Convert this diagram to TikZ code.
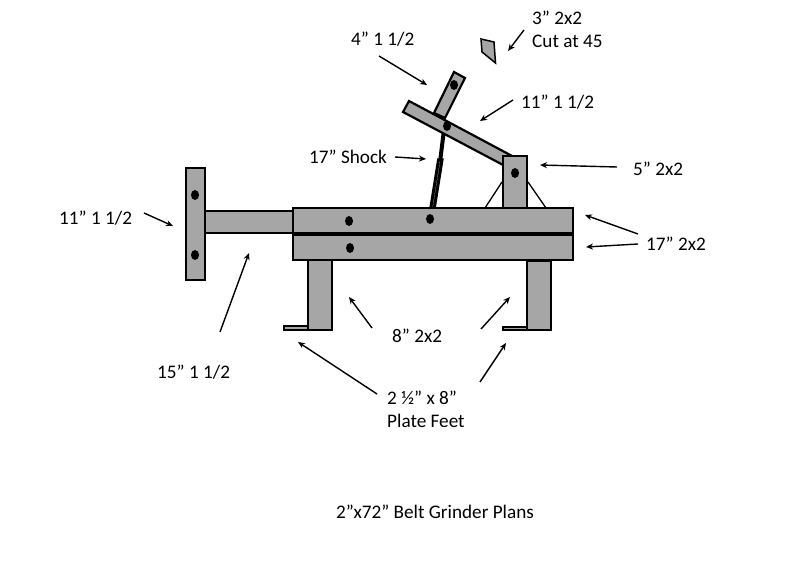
\documentclass[tikz,border=0pt]{standalone}
\usepackage{fontspec}
\setmainfont{Carlito}
\definecolor{steelgray}{HTML}{A6A6A6}
\tikzset{
    part/.style={draw=black, fill=steelgray, line width=2.2pt, line join=miter},
    bolt/.style={draw=none, fill=black, ellipse, minimum width=8pt, minimum height=10pt, inner sep=0pt},
    lbl/.style={font=\fontsize{19.2pt}{23pt}\selectfont, inner sep=0pt, align=left},
    pointer/.style={draw=black, line width=1.4pt, -{Stealth[length=7pt,width=6pt]}}
}
\usetikzlibrary{arrows.meta,shapes.geometric}
\begin{document}
\begin{tikzpicture}[x=1pt,y=-1pt]

    \useasboundingbox (0,0) rectangle (795,569);

    % Gussets behind the post
    \draw[line width=1.3pt] (485,208) -- (502,182);
    \draw[line width=1.3pt] (528,182) -- (546,208);

    % Short arm and shock
    \draw[part] (454,72) -- (465,78) -- (445,118) -- (434,113) -- cycle;
    \draw[line width=4pt] (444,130) -- (440,162);
    \draw[part, fill=white!70!steelgray, line width=3pt] (438.5,160) -- (442,160) -- (433.5,213) -- (430,213) -- cycle;

    % Angled arm, post
    \draw[part] (409,101) -- (514,157) -- (505,166) -- (403,112) -- cycle;
    \draw[part] (503,156) rectangle (527,208);

    % Cut piece
    \draw[part, line width=1.5pt] (481,39) -- (494,42) -- (495.5,63) -- (482,52) -- cycle;

    % Left plate and tube
    \draw[part] (205,211) rectangle (293,233);
    \draw[part] (186,168) rectangle (205,280);

    % Legs and feet
    \draw[part] (284,326) rectangle (308,330);
    \draw[part] (308,260) rectangle (332,330);
    \draw[part] (503,327) rectangle (527,330);
    \draw[part] (527,261) rectangle (551,330);

    % Main bars
    \draw[part] (293,208) rectangle (573,234);
    \draw[part] (293,234) rectangle (573,260);
    \draw[line width=3.5pt] (293,234) -- (573,234);

    % Bolts
    \node[bolt] (boltplatea) at (195,195) {};
    \node[bolt] (boltplateb) at (195,255) {};
    \node[bolt] (bolttop) at (349,221) {};
    \node[bolt] (boltbottom) at (350,248) {};
    \node[bolt] (boltshock) at (430,219) {};
    \node[bolt] (boltpivot) at (447,126) {};
    \node[bolt] (boltarm) at (454,85) {};
    \node[bolt] (boltpost) at (515,173) {};

    % Labels
    \node[lbl, anchor=west] (lblarm) at (351,39) {4” 1 1/2};
    \node[lbl, anchor=west] (lblcut) at (532,29.5) {3” 2x2\\Cut at 45};
    \node[lbl, anchor=west] (lblangle) at (521,102) {11” 1 1/2};
    \node[lbl, anchor=west] (lblshock) at (309,157) {17” Shock};
    \node[lbl, anchor=west] (lblpost) at (633,169) {5” 2x2};
    \node[lbl, anchor=west] (lblbars) at (646,244) {17” 2x2};
    \node[lbl, anchor=west] (lblplate) at (59,218) {11” 1 1/2};
    \node[lbl, anchor=west] (lbltube) at (157,372) {15” 1 1/2};
    \node[lbl, anchor=west] (lbllegs) at (392,336) {8” 2x2};
    \node[lbl, anchor=west] (lblfeet) at (387,409.5) {2 ½” x 8”\\Plate Feet};
    \node[lbl, anchor=west] (lbltitle) at (336,512) {2”x72” Belt Grinder Plans};

    % Arrow ends
    \coordinate (aarm) at (379,56);     \coordinate (barm) at (427,85);
    \coordinate (acut) at (524,30);     \coordinate (bcut) at (508,51);
    \coordinate (aangle) at (513,100);  \coordinate (bangle) at (480,121);
    \coordinate (ashock) at (395,157);  \coordinate (bshock) at (426,159);
    \coordinate (apost) at (617,167);   \coordinate (bpost) at (540,165);
    \coordinate (abara) at (638,234);   \coordinate (bbara) at (585,215);
    \coordinate (abarb) at (638,244);   \coordinate (bbarb) at (586,247);
    \coordinate (aplate) at (144,213);  \coordinate (bplate) at (173,226);
    \coordinate (atube) at (220,332);   \coordinate (btube) at (249,253);
    \coordinate (alega) at (372,328);   \coordinate (blega) at (349,297);
    \coordinate (alegb) at (481,329);   \coordinate (blegb) at (510,297);
    \coordinate (afoota) at (377,394);  \coordinate (bfoota) at (298,342);
    \coordinate (afootb) at (480,382);  \coordinate (bfootb) at (506,343);

    \draw[pointer] (aarm) -- (barm);
    \draw[pointer] (acut) -- (bcut);
    \draw[pointer] (aangle) -- (bangle);
    \draw[pointer] (ashock) -- (bshock);
    \draw[pointer] (apost) -- (bpost);
    \draw[pointer] (abara) -- (bbara);
    \draw[pointer] (abarb) -- (bbarb);
    \draw[pointer] (aplate) -- (bplate);
    \draw[pointer] (atube) -- (btube);
    \draw[pointer] (alega) -- (blega);
    \draw[pointer] (alegb) -- (blegb);
    \draw[pointer] (afoota) -- (bfoota);
    \draw[pointer] (afootb) -- (bfootb);

\end{tikzpicture}
\end{document}
